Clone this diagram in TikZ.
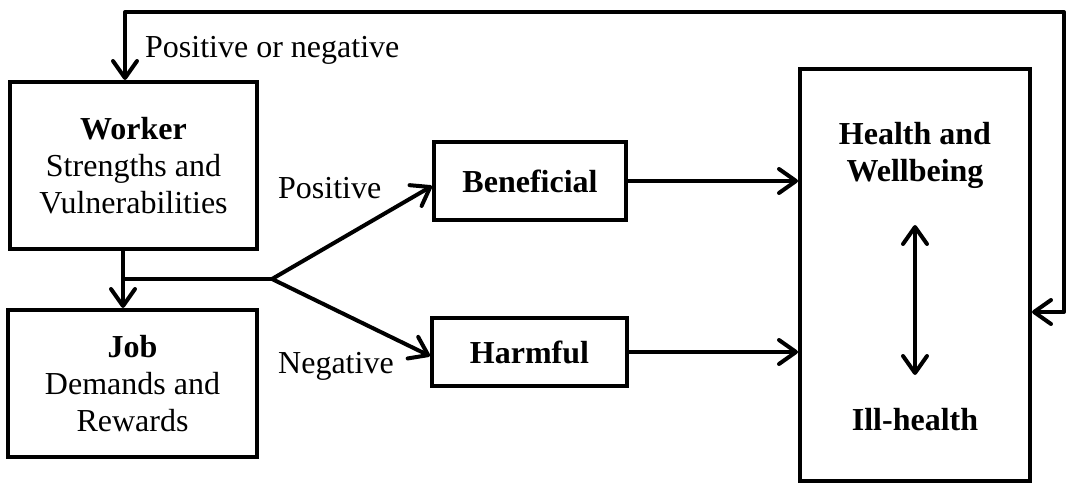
\documentclass[tikz,border=0pt]{standalone}
\usepackage{fontspec}
\setmainfont{Liberation Serif}
\usetikzlibrary{arrows.meta}
\begin{document}
\begin{tikzpicture}[x=1pt,y=-1pt,
  txt/.style={inner sep=0pt, align=center, font=\fontsize{32}{37}\selectfont},
  box/.style={txt, draw=black, line width=4pt},
  tip/.tip={Straight Barb[length=17pt,width=24pt,round]},
  arr/.style={line width=4pt, line join=round, -tip},
  dblarr/.style={line width=4pt, line join=round, tip-tip},
  conn/.style={line width=4pt, line join=round}]
\useasboundingbox (0,0) rectangle (1068,486);
% boxes
\node[box, minimum width=247pt, minimum height=167pt] (worker) at (133.5,165.5)
  {\textbf{Worker}\\Strengths and\\Vulnerabilities};
\node[box, minimum width=249pt, minimum height=147pt] (job) at (132.5,383.5)
  {\textbf{Job}\\Demands and\\Rewards};
\node[box, minimum width=192pt, minimum height=78pt] (ben) at (530,181) {\textbf{Beneficial}};
\node[box, minimum width=195pt, minimum height=68pt] (harm) at (529.5,352) {\textbf{Harmful}};
\node[box, minimum width=230pt, minimum height=412pt] (health) at (915,275) {};
\node[txt] (hw) at (915,155) {\textbf{Health and}\\\textbf{Wellbeing}};
\node[txt] (ill) at (915,420) {\textbf{Ill-health}};
% labels
\node[txt, anchor=west] (pn) at (145,50) {Positive or negative};
\node[txt, anchor=west] (pos) at (278,188) {Positive};
\node[txt, anchor=west] (neg) at (278,366) {Negative};
% helper coordinates
\coordinate (split) at (123,279);
\coordinate (branch) at (272,279);
\coordinate (fbR) at (1064,312);
\coordinate (fbL) at (125,12);
% connectors
\draw[arr] (worker.south -| split) -- (job.north -| split);
\draw[conn] (split) -- (branch);
\draw[arr] (branch) -- ([yshift=-5pt]ben.west);
\draw[arr] (branch) -- ([yshift=-4pt]harm.west);
\draw[arr] (ben.east) -- (ben.east -| health.west);
\draw[arr] (harm.east) -- (harm.east -| health.west);
\draw[dblarr, shorten <=70pt, shorten >=45pt] (hw.center) -- (ill.center);
\draw[dblarr] (fbR -| health.east) -- (fbR) |- (fbL) -- (fbL |- worker.north);
\end{tikzpicture}
\end{document}
